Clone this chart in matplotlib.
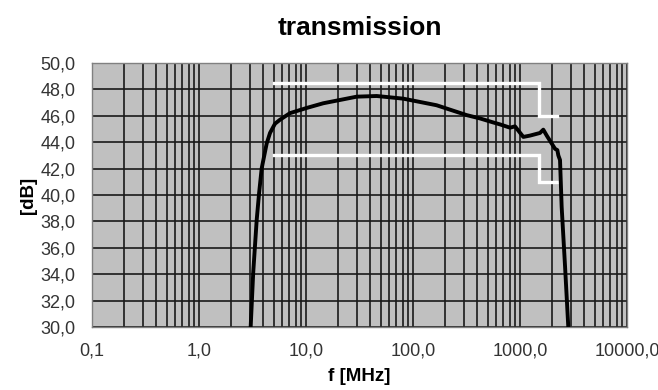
import numpy as np
import matplotlib
matplotlib.use('Agg')
import matplotlib.pyplot as plt
from matplotlib.ticker import FixedLocator, LogLocator, NullFormatter

plt.rcParams['font.family'] = ['Liberation Sans', 'DejaVu Sans']

freq_mhz = [3.04, 3.21, 3.46, 3.64, 3.85, 4.29, 4.61, 5.13, 5.71, 7.08, 10.2,
            14.5, 20.8, 29.8, 45.8, 81, 166, 318, 423, 560, 650, 807, 898,
            1074, 1240, 1537, 1651, 1778, 1979, 2125, 2234, 2282, 2366, 2451,
            2636, 2827]
gain_db = [30.0, 34.1, 38.1, 40.1, 42.0, 43.9, 44.7, 45.4, 45.7, 46.2, 46.6,
           46.95, 47.2, 47.45, 47.5, 47.3, 46.8, 46.05, 45.8, 45.5, 45.35,
           45.1, 45.2, 44.4, 44.5, 44.7, 44.95, 44.5, 43.9, 43.5, 43.4, 43.0,
           42.65, 39.1, 34.6, 30.0]

# spec mask
upper_f = [5, 1500, 1500, 2200]
upper_db = [48.5, 48.5, 46.0, 46.0]
lower_f = [5, 1500, 1500, 2200]
lower_db = [43.0, 43.0, 41.0, 41.0]

x_ticks = [0.1, 1, 10, 100, 1000, 10000]
x_tick_labels = ['0,1', '1,0', '10,0', '100,0', '1000,0', '10000,0']
y_ticks = np.arange(30, 51, 2)

fig = plt.figure(figsize=(6.58, 3.9), dpi=100)
ax = fig.add_axes([92 / 658, 63 / 390, 535 / 658, 264 / 390])
ax.set_facecolor('#c0c0c0')

ax.plot(upper_f, upper_db, color='white', linewidth=2.4, solid_joinstyle='miter', zorder=3)
ax.plot(lower_f, lower_db, color='white', linewidth=2.4, solid_joinstyle='miter', zorder=3)
ax.plot(freq_mhz, gain_db, color='black', linewidth=2.8, zorder=4)

ax.set_xscale('log')
ax.set_xlim(0.1, 10000)
ax.set_ylim(30, 50)
ax.xaxis.set_major_locator(FixedLocator(x_ticks))
ax.set_xticklabels(x_tick_labels)
ax.xaxis.set_minor_locator(LogLocator(base=10, subs=np.arange(2, 10)))
ax.xaxis.set_minor_formatter(NullFormatter())
ax.set_yticks(y_ticks)
ax.set_yticklabels([f'{v:.1f}'.replace('.', ',') for v in y_ticks])

ax.grid(True, which='both', axis='x', color='#1a1a1a', linewidth=1.2)
ax.grid(True, which='major', axis='y', color='#1a1a1a', linewidth=1.2)
ax.set_axisbelow(True)
ax.tick_params(which='both', length=0, labelsize=13, colors='#333333')
ax.tick_params(axis='x', pad=11)
ax.tick_params(axis='y', pad=12)
for s in ax.spines.values():
    s.set_color('#808080')
    s.set_linewidth(1.0)

ax.set_title('transmission', fontsize=19, fontweight='bold', pad=20)
ax.set_xlabel('f [MHz]', fontsize=13.5, fontweight='bold', labelpad=6)
ax.set_ylabel('[dB]', fontsize=13.5, fontweight='bold', labelpad=2)

fig.savefig('out.png', dpi=100)
